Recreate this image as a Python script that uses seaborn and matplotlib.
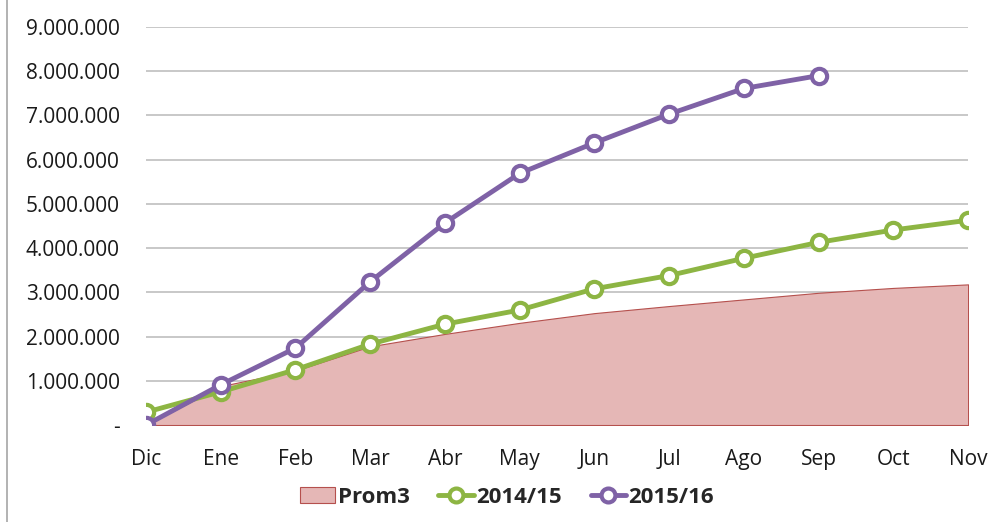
import pandas as pd
import matplotlib.pyplot as plt
import seaborn as sns
from matplotlib.lines import Line2D
from matplotlib.patches import Patch
from matplotlib.ticker import FuncFormatter

months = ['Dic', 'Ene', 'Feb', 'Mar', 'Abr', 'May', 'Jun', 'Jul', 'Ago', 'Sep', 'Oct', 'Nov']
prom3 = [0, 880000, 1230000, 1780000, 2060000, 2310000, 2530000, 2690000, 2840000, 2990000, 3100000, 3180000]
s2014 = [290000, 750000, 1250000, 1830000, 2280000, 2600000, 3080000, 3380000, 3770000, 4130000, 4410000, 4630000]
s2015 = [0, 910000, 1740000, 3240000, 4570000, 5690000, 6380000, 7030000, 7610000, 7900000]

purple = '#7F62A6'
green = '#8DB543'

sns.set_style('white')
plt.rcParams['font.family'] = ['Open Sans', 'DejaVu Sans']

df14 = pd.DataFrame({'x': range(len(s2014)), 'y': s2014})
df15 = pd.DataFrame({'x': range(len(s2015)), 'y': s2015})

fig = plt.figure(figsize=(9.98, 5.22), dpi=100)
ax = fig.add_axes([0.1463, 0.1858, 0.8237, 0.7625])

ax.fill_between(range(len(prom3)), prom3, 0, facecolor='#E5B7B6', edgecolor='#B5504D', linewidth=0.8, zorder=1)
for yv in range(1000000, 9000001, 1000000):
    ax.axhline(yv, color='#BFBFBF', linewidth=1.2, zorder=0)
ax.axhline(0, color='#BFBFBF', linewidth=1.2, zorder=0)

sns.lineplot(data=df14, x='x', y='y', ax=ax, color=green, linewidth=3.5, marker='o',
             markersize=11, markerfacecolor='white', markeredgecolor=green, markeredgewidth=3, zorder=3)
sns.lineplot(data=df15, x='x', y='y', ax=ax, color=purple, linewidth=3.5, marker='o',
             markersize=11, markerfacecolor='white', markeredgecolor=purple, markeredgewidth=3, zorder=4)

ax.set_xlim(0, 11)
ax.set_ylim(0, 9000000)
ax.set_xticks(range(len(months)))
ax.set_xticklabels(months)
ax.set_yticks(range(0, 9000001, 1000000))
ax.yaxis.set_major_formatter(FuncFormatter(lambda v, p: '-' if v == 0 else f'{int(v):,}'.replace(',', '.')))
ax.tick_params(axis='both', length=0, labelsize=15, colors='#1a1a1a')
ax.tick_params(axis='y', pad=19)
ax.tick_params(axis='x', pad=17)
ax.set_xlabel('')
ax.set_ylabel('')
for s in ax.spines.values():
    s.set_visible(False)

handles = [
    Patch(facecolor='#E5B7B6', edgecolor='#B5504D', linewidth=0.8),
    Line2D([], [], color=green, linewidth=3.5, marker='o', markersize=10,
           markerfacecolor='white', markeredgecolor=green, markeredgewidth=3),
    Line2D([], [], color=purple, linewidth=3.5, marker='o', markersize=10,
           markerfacecolor='white', markeredgecolor=purple, markeredgewidth=3),
]
fig.legend(handles, ['Prom3', '2014/15', '2015/16'], loc='center', bbox_to_anchor=(0.508, 0.047),
           ncol=3, frameon=False, prop={'weight': 'bold', 'size': 16},
           handlelength=1.6, handletextpad=0.1, columnspacing=1.3)

fig.add_artist(Line2D([0.007, 0.007], [0, 1], color='#A6A6A6', linewidth=1.2))

fig.savefig('out.png', dpi=100)
